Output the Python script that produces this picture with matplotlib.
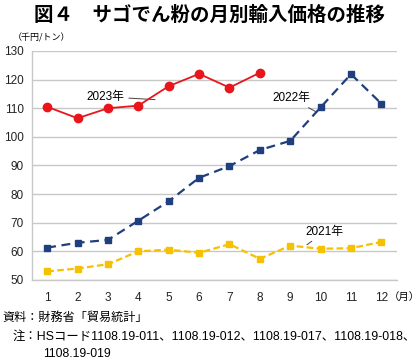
import matplotlib

matplotlib.use("Agg")
import matplotlib.pyplot as plt

plt.rcParams["font.family"] = ["Liberation Sans", "Noto Sans CJK JP", "DejaVu Sans"]
CJK = ["Noto Sans CJK JP", "DejaVu Sans"]

months = list(range(1, 13))
month_labels = [str(m) for m in months]
y_ticks = [50, 60, 70, 80, 90, 100, 110, 120, 130]

# 千円/トン
price_2021 = [53.0, 54.0, 55.5, 60.0, 60.6, 59.5, 62.5, 57.4, 62.0, 60.9, 61.1, 63.3]
price_2022 = [61.3, 63.0, 64.0, 70.7, 77.5, 85.7, 89.8, 95.4, 98.6, 110.3, 121.9, 111.6]
price_2023 = [110.5, 106.5, 110.0, 110.9, 117.7, 122.0, 117.2, 122.4]

RED = "#e8161b"
NAVY = "#1f3f7f"
GOLD = "#f6c100"

fig = plt.figure(figsize=(4.2, 3.63), dpi=100)
ax = fig.add_axes([0.0762, 0.2287, 0.868, 0.6309])

ax.plot(months, price_2021, color=GOLD, linestyle=(0, (3, 1.5)), linewidth=1.6,
        marker="s", markersize=4.8, zorder=3)
ax.plot(months, price_2022, color=NAVY, linestyle=(0, (4, 2.5)), linewidth=1.6,
        marker="s", markersize=4.8, zorder=3)
ax.plot(months[:len(price_2023)], price_2023, color=RED, linewidth=1.3,
        marker="o", markersize=6, zorder=4)

ax.set_xlim(0.5, 12.5)
ax.set_ylim(50, 130)
ax.set_xticks(months)
ax.set_xticklabels(month_labels)
ax.set_yticks(y_ticks)
ax.tick_params(length=0, labelsize=8.5, colors="#222222")
ax.tick_params(axis="x", pad=9)
ax.tick_params(axis="y", pad=6)
ax.grid(axis="y", color="#c8c8c8", linewidth=1.0)
ax.set_axisbelow(True)
for side in ("top", "right"):
    ax.spines[side].set_visible(False)
for side in ("left", "bottom"):
    ax.spines[side].set_color("#c8c8c8")
    ax.spines[side].set_linewidth(1.0)

# series labels with leader lines
leader = dict(arrowstyle="-", color="#444444", lw=0.7, shrinkA=1, shrinkB=0)
ax.annotate("2023年", xy=(4.55, 113.0), xytext=(3.55, 114.0), fontsize=8.5,
            ha="right", va="center", arrowprops=leader)
ax.annotate("2022年", xy=(9.84, 108.8), xytext=(9.04, 113.5), fontsize=8.5,
            ha="center", va="center", arrowprops=leader)
ax.annotate("2021年", xy=(9.55, 62.3), xytext=(10.14, 66.9), fontsize=8.5,
            ha="center", va="center", arrowprops=leader)

fig.text(0.5, 0.958, "図４　サゴでん粉の月別輸入価格の推移", ha="center", va="center",
         fontsize=14, fontweight="bold", family=CJK)
fig.text(0.03, 0.895, "（千円/トン）", ha="left", va="center", fontsize=6.5, family=CJK)
fig.text(0.999, 0.182, "（月）", ha="right", va="center", fontsize=7.5, family=CJK)
fig.text(0.007, 0.125, "資料：財務省「貿易統計」", ha="left", va="center", fontsize=8.7)
fig.text(0.03, 0.073, "注：HSコード1108.19-011、1108.19-012、1108.19-017、1108.19-018、",
         ha="left", va="center", fontsize=8.9)
fig.text(0.102, 0.026, "1108.19-019", ha="left", va="center", fontsize=8.8)

fig.savefig("out.png", dpi=100)
